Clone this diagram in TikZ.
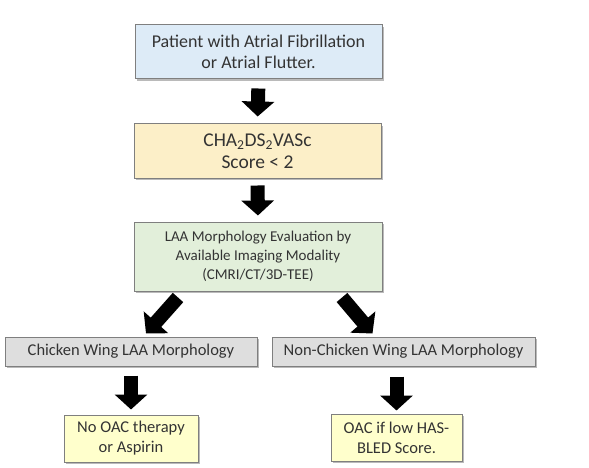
\documentclass[tikz,border=0pt]{standalone}
\usepackage{fontspec}
\setmainfont{Carlito}
\usetikzlibrary{arrows.meta, shadows}

\definecolor{boxedge}{HTML}{7F7F7F}
\definecolor{txtgray}{HTML}{333333}
\definecolor{patblue}{HTML}{DDEBF7}
\definecolor{scoreyellow}{HTML}{FCEFC8}
\definecolor{evalgreen}{HTML}{E2EFDA}
\definecolor{morphgray}{HTML}{DEDEDE}
\definecolor{therapyyellow}{HTML}{FFFFCC}

\tikzset{
  box/.style={draw=boxedge, line width=1pt, text=txtgray, align=center, inner sep=2pt,
    drop shadow={shadow xshift=2pt, shadow yshift=-2pt, fill=black!45, opacity=0.6}},
  bigarrow/.style={line width=14pt, -{Triangle[length=15pt,width=32pt]}},
  bigfont/.style={font=\fontsize{18}{21}\selectfont},
  scorefont/.style={font=\fontsize{19.5}{22}\selectfont},
  midfont/.style={font=\fontsize{16.5}{20}\selectfont},
  smallfont/.style={font=\fontsize{15}{19}\selectfont}
}

\begin{document}
\begin{tikzpicture}[x=1pt,y=-1pt]
  \useasboundingbox (0,0) rectangle (589,468);

  \node[box, bigfont, fill=patblue, minimum width=247pt, minimum height=54pt] (pat) at (258.5,52)
    {Patient with Atrial Fibrillation\\or Atrial Flutter.};
  \node[box, scorefont, fill=scoreyellow, minimum width=247pt, minimum height=54pt] (score) at (257.5,151)
    {CHA\textsubscript{2}DS\textsubscript{2}VASc\\Score < 2};
  \node[box, smallfont, fill=evalgreen, minimum width=248pt, minimum height=69pt] (laa) at (258,256.5)
    {LAA Morphology Evaluation by\\Available Imaging Modality\\(CMRI/CT/3D-TEE)};

  \node[box, midfont, fill=morphgray, minimum width=252pt, minimum height=29pt] (cw) at (131,351.5)
    {Chicken Wing LAA Morphology};
  \node[box, midfont, fill=morphgray, minimum width=263pt, minimum height=29pt] (ncw) at (403.5,351.5)
    {Non-Chicken Wing LAA Morphology};

  \node[box, midfont, fill=therapyyellow, minimum width=134pt, minimum height=47pt] (noac) at (131,438.5)
    {No OAC therapy\\or Aspirin};
  \node[box, midfont, fill=therapyyellow, minimum width=131pt, minimum height=47pt] (oac) at (396.5,437.5)
    {OAC if low HAS-\\BLED Score.};

  \draw[bigarrow, shorten <=9pt, shorten >=7pt] (pat.south) -- (score.north);
  \draw[bigarrow, shorten <=7pt, shorten >=6pt] (score.south) -- (laa.north);
  \draw[bigarrow] ([xshift=-80pt,yshift=-6pt]laa.south) -- ([xshift=15pt,yshift=3pt]cw.north);
  \draw[bigarrow] ([xshift=84pt,yshift=-6pt]laa.south) -- ([xshift=-31pt,yshift=3pt]ncw.north);
  \draw[bigarrow, shorten <=9pt, shorten >=5pt] (cw.south) -- (noac.north);
  \draw[bigarrow, shorten <=10pt, shorten >=3pt] (ncw.south -| oac.north) -- (oac.north);
\end{tikzpicture}
\end{document}
